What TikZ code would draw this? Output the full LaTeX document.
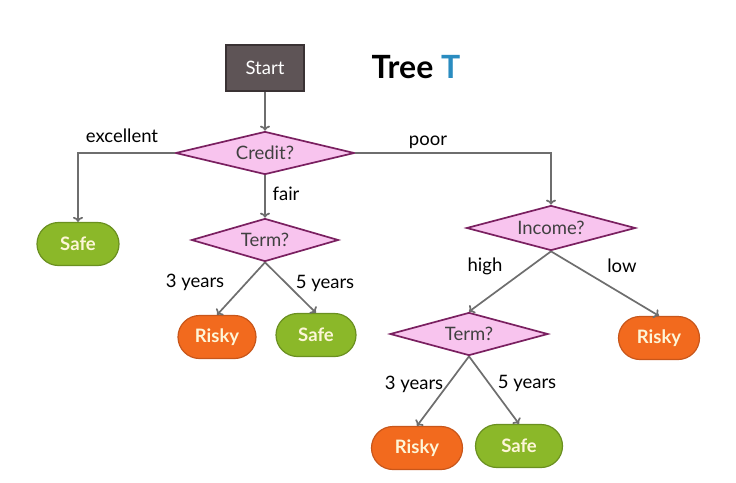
\documentclass[tikz,border=0pt]{standalone}
\usepackage{fontspec}
\setmainfont{Lato}
\usetikzlibrary{shapes.geometric,shapes.misc,arrows.meta}
\definecolor{startfill}{HTML}{5E5456}
\definecolor{startdraw}{HTML}{3A3234}
\definecolor{pinkfill}{HTML}{F8C4EE}
\definecolor{pinkdraw}{HTML}{7A2060}
\definecolor{greenfill}{HTML}{8BB829}
\definecolor{greendraw}{HTML}{6A9020}
\definecolor{orangefill}{HTML}{F26A1E}
\definecolor{orangedraw}{HTML}{C8561A}
\definecolor{leaftext}{HTML}{FDF6D8}
\definecolor{linegray}{HTML}{6E6E6E}
\definecolor{tblue}{HTML}{2A8CC0}
\tikzset{
  txt/.style={font=\fontsize{18.5}{22}\selectfont},
  startbox/.style={draw=startdraw, fill=startfill, line width=1.5pt, minimum width=78pt, minimum height=46pt, text=white, txt},
  decision/.style={diamond, draw=pinkdraw, fill=pinkfill, line width=1.7pt, inner sep=0pt, text=black!75, txt},
  leaf/.style={rounded rectangle, draw=#1draw, fill=#1fill, line width=1.2pt, minimum height=43pt, inner sep=0pt, text=leaftext, font=\fontsize{18.5}{22}\selectfont\bfseries},
  conn/.style={draw=linegray, line width=1.7pt, -{To[length=5pt,width=10pt]}},
  lab/.style={txt, text=black, inner sep=0pt}
}
\begin{document}
\begin{tikzpicture}[x=1pt,y=-1pt]
\useasboundingbox[fill=white] (0,0) rectangle (736,482);
% nodes
\node[startbox] (start) at (265,68) {Start};
\node[font=\fontsize{32}{36}\selectfont\bfseries, inner sep=0pt] (title) at (416,67) {Tree \textcolor{tblue}{T}};
\node[decision, minimum width=179pt, minimum height=43pt, shape aspect=4.16] (credit) at (265,153) {Credit?};
\node[leaf=green, minimum width=82pt] (safeA) at (78,244) {Safe};
\node[decision, minimum width=147pt, minimum height=43pt, shape aspect=3.42] (termA) at (265,240) {Term?};
\node[leaf=orange, minimum width=78pt] (riskyA) at (217,337) {Risky};
\node[leaf=green, minimum width=80pt] (safeB) at (316,335) {Safe};
\node[decision, minimum width=169pt, minimum height=45pt, shape aspect=3.75] (income) at (551,228) {Income?};
\node[decision, minimum width=158pt, minimum height=43pt, shape aspect=3.67] (termB) at (469,334) {Term?};
\node[leaf=orange, minimum width=81pt] (riskyC) at (659,338) {Risky};
\node[leaf=orange, minimum width=91pt] (riskyB) at (417,448) {Risky};
\node[leaf=green, minimum width=87pt] (safeC) at (519,446) {Safe};
% labels
\node[lab] (lexc) at (122,136) {excellent};
\node[lab] (lpoor) at (428,142) {poor};
\node[lab] (lfair) at (286,194) {fair};
\node[lab] (l3a) at (195,282) {3 years};
\node[lab] (l5a) at (325,283) {5 years};
\node[lab] (lhigh) at (485,266) {high};
\node[lab] (llow) at (622,266) {low};
\node[lab] (l3b) at (414,384) {3 years};
\node[lab] (l5b) at (527,383) {5 years};
% connectors
\draw[conn] (start.south) -- (credit.north);
\draw[conn] (credit.west) -| (safeA.north);
\draw[conn] (credit.east) -| (income.north);
\draw[conn] (credit.south) -- (termA.north);
\draw[conn] (termA.south) -- (riskyA.north);
\draw[conn] (termA.south) -- (safeB.north);
\draw[conn] (income.south) -- (termB.north);
\draw[conn] (income.south) -- (riskyC.north);
\draw[conn] (termB.south) -- (riskyB.north);
\draw[conn] (termB.south) -- (safeC.north);
\end{tikzpicture}
\end{document}
